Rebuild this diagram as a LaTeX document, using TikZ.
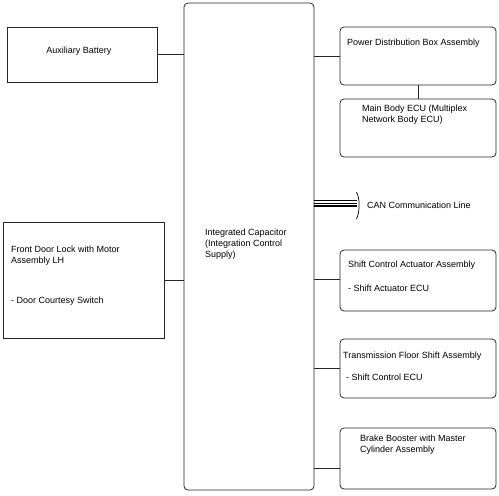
\documentclass[tikz,border=0pt]{standalone}
\usepackage{fontspec}
\setmainfont{Liberation Sans}
\begin{document}
\begin{tikzpicture}[x=1pt,y=-1pt,
  box/.style={draw=black!85,line width=0.8pt,rectangle,inner sep=0pt},
  rbox/.style={box,rounded corners=4pt},
  txt/.style={font=\fontsize{9}{10.8}\selectfont,inner sep=0pt,align=left,anchor=west},
  wire/.style={draw=black!85,line width=0.8pt}]
\useasboundingbox (0,0) rectangle (499,496);
% boxes
\node[rbox,minimum width=130pt,minimum height=487pt] (cap) at (249,246.5) {};
\node[box,minimum width=150pt,minimum height=55pt] (aux) at (82,54.5) {};
\node[rbox,minimum width=156pt,minimum height=58pt] (pdb) at (418,56) {};
\node[rbox,minimum width=156pt,minimum height=58pt] (mbe) at (418,128) {};
\node[box,minimum width=161pt,minimum height=116pt] (door) at (83.5,280) {};
\node[rbox,minimum width=156pt,minimum height=61pt] (sca) at (418,280.5) {};
\node[rbox,minimum width=156pt,minimum height=59pt] (tfs) at (418,368.5) {};
\node[rbox,minimum width=156pt,minimum height=61pt] (bb) at (418,458.5) {};
% texts
\node[txt,anchor=center] (auxt) at (79,51.5) {Auxiliary Battery};
\node[txt] (capt) at (205,244) {Integrated Capacitor\\(Integration Control\\Supply)};
\node[txt] (pdbt) at (347,43) {Power Distribution Box Assembly};
\node[txt] (mbet) at (362,114.5) {Main Body ECU (Multiplex\\Network Body ECU)};
\node[txt] (doort) at (11,255.5) {Front Door Lock with Motor\\Assembly LH};
\node[txt] (doort2) at (11,301) {- Door Courtesy Switch};
\node[txt] (scat) at (348,265) {Shift Control Actuator Assembly};
\node[txt] (scat2) at (348,288) {- Shift Actuator ECU};
\node[txt] (tfst) at (343,356.5) {Transmission Floor Shift Assembly};
\node[txt] (tfst2) at (346,377) {- Shift Control ECU};
\node[txt] (bbt) at (360,444.5) {Brake Booster with Master\\Cylinder Assembly};
\node[txt] (cant) at (367,205) {CAN Communication Line};
% connectors
\draw[wire] (aux.east) -- (aux.east -| cap.west);
\draw[wire] (pdb.west |- 0,56) -- (cap.east |- 0,56);
\draw[wire] (pdb.south) -- (mbe.north);
\draw[wire] (door.east) -- (door.east -| cap.west);
\draw[wire] (sca.west |- 0,279) -- (cap.east |- 0,279);
\draw[wire] (tfs.west |- 0,368) -- (cap.east |- 0,368);
\draw[wire] (bb.west |- 0,468) -- (cap.east |- 0,468);
% CAN line
\coordinate (canend) at (357,203.3);
\foreach \dy in {-2.8,0,2.8}
  \draw[line width=1.5pt] ([yshift=\dy*-1pt]cap.east |- canend) -- ([yshift=\dy*-1pt]canend);
\draw[line width=0.7pt] (356.5,192) .. controls (360,198) and (360,212) .. (356.5,219);
\end{tikzpicture}
\end{document}
